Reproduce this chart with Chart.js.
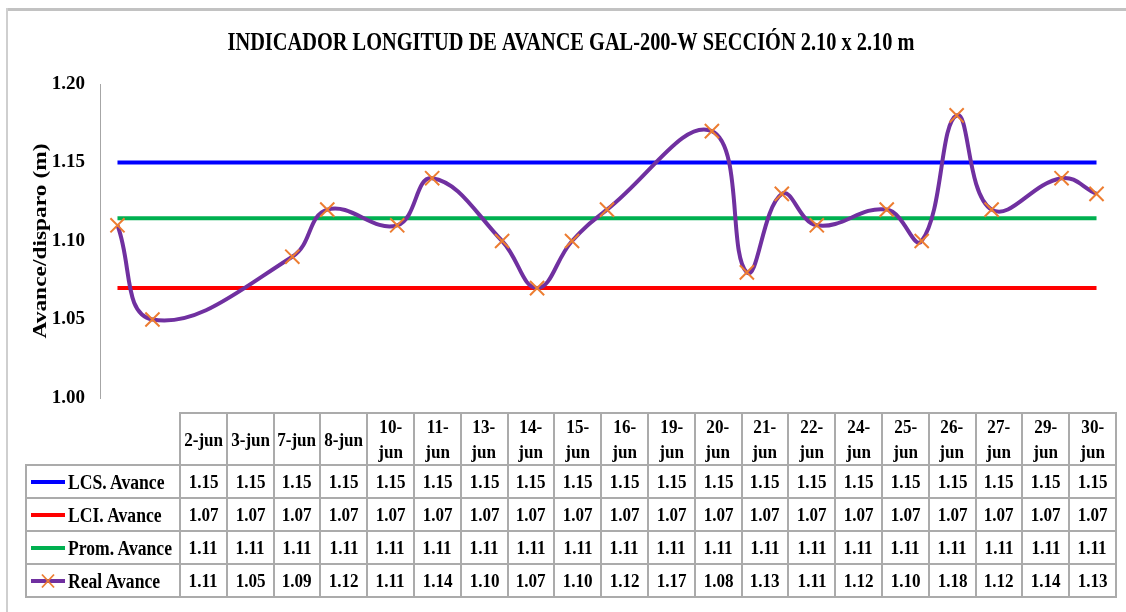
<!DOCTYPE html>
<html>
<head>
<meta charset="utf-8">
<script src="https://cdn.jsdelivr.net/npm/chart.js@4"></script>
<style>
html,body{margin:0;padding:0;background:#fff;}
#wrap{position:relative;width:1126px;height:612px;overflow:hidden;background:#fff;font-family:"Liberation Serif","Times New Roman",serif;}
#frameTop{position:absolute;left:6px;top:8px;width:1120px;height:3px;background:#c2c2c2;}
#frameLeft{position:absolute;left:6px;top:8px;width:2px;height:604px;background:#cfcfcf;}
canvas{position:absolute;left:0;top:0;}
#tbl{position:absolute;left:25px;top:412px;border-collapse:collapse;table-layout:fixed;width:1090px;}
#tbl td,#tbl th{border:2px solid #ababab;padding:0;text-align:center;vertical-align:middle;font-weight:bold;font-size:19px;color:#000;white-space:nowrap;overflow:visible;}
#tbl th{height:50px;line-height:25px;}
#tbl td{height:31px;line-height:22px;}
#tbl th.blank{border-top:none;border-left:none;}
.t{display:inline-block;transform:scaleX(.9);}
td.leg{position:relative;text-align:left !important;}
td.leg svg{position:absolute;left:4px;top:50%;margin-top:-8px;}
td.leg span{position:absolute;left:41px;top:50%;transform:translateY(-50%) scaleX(.88);transform-origin:left center;font-size:20px;}
</style>
</head>
<body>
<div id="wrap">
  <div id="frameTop"></div>
  <div id="frameLeft"></div>
  <canvas id="c" width="1126" height="612"></canvas>
  <table id="tbl"></table>
</div>
<script>
// ---- data ----
const chartTitle = 'INDICADOR LONGITUD DE AVANCE GAL-200-W SECCIÓN 2.10 x 2.10 m';
const yTitle = 'Avance/disparo (m)';
const categories = ['2-jun','3-jun','7-jun','8-jun','10-jun','11-jun','13-jun','14-jun','15-jun','16-jun','19-jun','20-jun','21-jun','22-jun','24-jun','25-jun','26-jun','27-jun','29-jun','30-jun'];
const days = [2,3,7,8,10,11,13,14,15,16,19,20,21,22,24,25,26,27,29,30];
const seriesNames = ['LCS. Avance','LCI. Avance','Prom. Avance','Real Avance'];
const lcsValues  = [1.15,1.15,1.15,1.15,1.15,1.15,1.15,1.15,1.15,1.15,1.15,1.15,1.15,1.15,1.15,1.15,1.15,1.15,1.15,1.15];
const lciValues  = [1.07,1.07,1.07,1.07,1.07,1.07,1.07,1.07,1.07,1.07,1.07,1.07,1.07,1.07,1.07,1.07,1.07,1.07,1.07,1.07];
const promValues = [1.1145,1.1145,1.1145,1.1145,1.1145,1.1145,1.1145,1.1145,1.1145,1.1145,1.1145,1.1145,1.1145,1.1145,1.1145,1.1145,1.1145,1.1145,1.1145,1.1145];
const realValues = [1.11,1.05,1.09,1.12,1.11,1.14,1.10,1.07,1.10,1.12,1.17,1.08,1.13,1.11,1.12,1.10,1.18,1.12,1.14,1.13];
const yTicks = [1.00,1.05,1.10,1.15,1.20];

const colors = ['#0000FF','#FF0000','#00B050','#7030A0'];
const markerColor = '#ED7D31';
const FONT = '"Liberation Serif","Times New Roman",serif';

const pts = vals => days.map((d,i)=>({x:d,y:vals[i]}));

const textPlugin = {
  id:'textPlugin',
  afterDraw(chart){
    const c = chart.ctx;
    c.save();
    c.fillStyle = '#000';
    c.font = 'bold 26px ' + FONT;
    c.textAlign = 'center';
    c.textBaseline = 'alphabetic';
    const w = c.measureText(chartTitle).width;
    c.translate(571, 50);
    c.scale(687 / w, 1);
    c.fillText(chartTitle, 0, 0);
    c.restore();

    const a = chart.chartArea;
    c.save();
    c.fillStyle = '#000';
    c.font = 'bold 23px ' + FONT;
    c.textAlign = 'center';
    c.textBaseline = 'middle';
    const w2 = c.measureText(yTitle).width;
    c.translate(41, (a.top + a.bottom) / 2);
    c.rotate(-Math.PI / 2);
    c.scale(195 / w2, 0.82);
    c.fillText(yTitle, 0, 0);
    c.restore();
  }
};

new Chart(document.getElementById('c'), {
  type:'line',
  data:{
    datasets:[
      {label:seriesNames[3], data:pts(realValues), borderColor:colors[3], borderWidth:4, tension:0.42,
       pointStyle:'crossRot', pointRadius:10, pointBorderColor:markerColor, pointBackgroundColor:markerColor, pointBorderWidth:2, order:0},
      {label:seriesNames[0], data:pts(lcsValues), borderColor:colors[0], borderWidth:4, pointRadius:0, tension:0, order:1},
      {label:seriesNames[1], data:pts(lciValues), borderColor:colors[1], borderWidth:4, pointRadius:0, tension:0, order:2},
      {label:seriesNames[2], data:pts(promValues), borderColor:colors[2], borderWidth:4, pointRadius:0, tension:0, order:3}
    ]
  },
  options:{
    responsive:false, animation:false, events:[],
    layout:{padding:{left:20, top:84, right:12, bottom:214}},
    plugins:{legend:{display:false}, title:{display:false}, tooltip:{enabled:false}},
    scales:{
      x:{type:'linear', min:1.5, max:30.5, display:false},
      y:{min:yTicks[0], max:yTicks[yTicks.length-1],
         afterBuildTicks(s){ s.ticks = yTicks.map(v=>({value:v})); },
         afterFit(s){ s.width = 80; },
         ticks:{callback:v=>Number(v).toFixed(2), color:'#000', padding:15, font:{family:FONT, size:19, weight:'bold'}},
         grid:{display:false, drawTicks:false},
         border:{display:true, color:'#a6a6a6', width:1}}
    }
  },
  plugins:[textPlugin]
});

// ---- data table ----
const tbl = document.getElementById('tbl');
let html = '<colgroup><col style="width:154px">' + categories.map(()=>'<col style="width:46.8px">').join('') + '</colgroup>';
html += '<tr><th class="blank"></th>' + categories.map(l=>{
  const parts = l.length > 5 ? l.replace('-', '-<br>') : l;
  return '<th><span class="t">' + parts + '</span></th>';
}).join('') + '</tr>';
const rows = [lcsValues, lciValues, promValues, realValues];
rows.forEach((vals, r)=>{
  let sw;
  if (r === 3) {
    sw = '<svg width="34" height="16"><line x1="0" y1="8" x2="34" y2="8" stroke="'+colors[3]+'" stroke-width="4"/>' +
         '<line x1="11" y1="1.5" x2="23" y2="14.5" stroke="'+markerColor+'" stroke-width="1.8"/><line x1="23" y1="1.5" x2="11" y2="14.5" stroke="'+markerColor+'" stroke-width="1.8"/></svg>';
  } else {
    sw = '<svg width="34" height="16"><line x1="0" y1="8" x2="34" y2="8" stroke="'+colors[r]+'" stroke-width="4"/></svg>';
  }
  html += '<tr><td class="leg">' + sw + '<span>' + seriesNames[r] + '</span></td>' +
    vals.map(v=>'<td><span class="t">' + v.toFixed(2) + '</span></td>').join('') + '</tr>';
});
tbl.innerHTML = html;
</script>
</body>
</html>
